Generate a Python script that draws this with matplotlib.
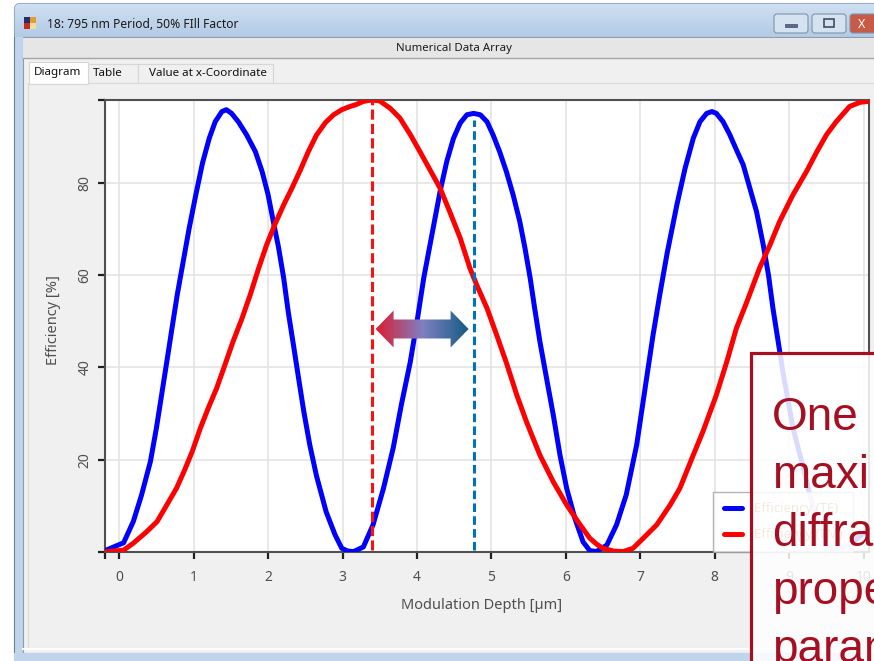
import numpy as np
import matplotlib
matplotlib.use("Agg")
import matplotlib.pyplot as plt
from matplotlib.patches import Rectangle, FancyBboxPatch, Polygon
from matplotlib.colors import LinearSegmentedColormap

plt.rcParams["font.family"] = ["Noto Sans", "DejaVu Sans"]

# efficiency curves
te_x = [-0.19, 0.06, 0.19, 0.30, 0.42, 0.50, 0.57, 0.64, 0.71, 0.78, 0.86, 0.94, 1.03,
        1.12, 1.21, 1.29, 1.38, 1.44, 1.51, 1.60, 1.71, 1.83, 1.92, 2.00, 2.07, 2.14,
        2.21, 2.27, 2.34, 2.41, 2.48, 2.56, 2.65, 2.78, 2.90, 2.99, 3.07, 3.15, 3.28,
        3.41, 3.55, 3.68, 3.79, 3.91, 4.00, 4.09, 4.20, 4.31, 4.40, 4.49, 4.58, 4.67,
        4.76, 4.85, 4.94, 5.02, 5.11, 5.20, 5.29, 5.38, 5.45, 5.52, 5.58, 5.65, 5.74,
        5.83, 5.92, 6.01, 6.12, 6.23, 6.32, 6.41, 6.55, 6.68, 6.81, 6.95, 7.07, 7.17,
        7.26, 7.36, 7.49, 7.60, 7.71, 7.80, 7.89, 7.96, 8.02, 8.11, 8.20, 8.29, 8.38,
        8.47, 8.56, 8.65, 8.72, 8.78, 8.85, 8.92, 9.05, 9.19, 9.32, 9.45, 9.59, 9.80,
        10.07]
te_y = [0.3, 2.0, 6.6, 12.3, 19.6, 26.8, 34.0, 41.2, 48.5, 55.7, 62.9, 70.1, 77.4,
        84.3, 89.6, 93.2, 95.4, 95.8, 95.0, 93.2, 90.4, 86.7, 82.4, 77.4, 71.6, 66.0,
        59.3, 52.1, 44.9, 37.6, 30.4, 23.2, 16.5, 8.7, 3.7, 0.8, 0.2, 0.1, 1.1,
        5.9, 13.8, 22.5, 31.9, 41.2, 49.9, 59.3, 68.7, 78.1, 84.6, 89.6, 92.9, 94.7,
        95.0, 94.7, 93.2, 90.4, 86.7, 82.4, 77.4, 71.6, 65.8, 59.3, 52.8, 45.6, 37.6,
        29.7, 21.0, 13.8, 7.3, 2.2, 0.3, 0.1, 1.5, 5.9, 12.4, 23.2, 36.2, 47.0,
        55.7, 64.8, 75.2, 83.1, 89.6, 93.2, 95.0, 95.4, 95.0, 93.2, 90.4, 87.1, 83.9,
        78.8, 73.7, 66.5, 60.0, 52.8, 45.6, 38.4, 26.8, 18.1, 9.5, 3.7, 0.4, 1.5,
        5.0]

tm_x = [-0.19, 0.06, 0.19, 0.37, 0.51, 0.64, 0.77, 0.87, 0.98, 1.09, 1.20, 1.31, 1.42,
        1.53, 1.65, 1.76, 1.87, 1.98, 2.09, 2.21, 2.32, 2.43, 2.54, 2.65, 2.77, 2.88,
        2.99, 3.10, 3.18, 3.28, 3.39, 3.50, 3.64, 3.77, 3.91, 4.04, 4.17, 4.31, 4.44,
        4.58, 4.71, 4.80, 4.94, 5.07, 5.20, 5.34, 5.47, 5.65, 5.83, 6.01, 6.19, 6.32,
        6.42, 6.50, 6.64, 6.77, 6.90, 7.04, 7.22, 7.40, 7.53, 7.71, 7.84, 8.02, 8.16,
        8.29, 8.43, 8.60, 8.74, 8.87, 9.05, 9.23, 9.37, 9.50, 9.63, 9.81, 9.95, 10.07]
tm_y = [0.0, 0.4, 1.9, 4.4, 6.6, 10.2, 13.8, 17.4, 21.7, 26.8, 31.3, 35.5, 40.5,
        45.6, 50.6, 55.7, 61.3, 66.5, 70.9, 75.2, 78.8, 82.6, 86.7, 90.3, 93.0, 94.7,
        95.8, 96.5, 96.9, 97.6, 97.9, 97.7, 96.1, 94.0, 90.4, 86.7, 82.9, 78.8, 73.7,
        68.0, 61.5, 57.9, 52.8, 47.0, 41.0, 34.0, 28.2, 21.0, 15.2, 10.2, 5.9, 3.0,
        1.6, 0.8, 0.2, 0.1, 0.8, 3.0, 5.9, 10.2, 13.8, 21.0, 26.1, 34.0, 41.2,
        48.5, 54.2, 61.5, 66.5, 71.6, 77.4, 82.4, 86.7, 90.4, 93.2, 96.5, 97.4, 97.6]

tm_peak_x = 3.39
te_peak_x = 4.76
te_peak_y = 93.6

x_ticks = [0, 1, 2, 3, 4, 5, 6, 7, 8, 9, 10]
y_ticks = [20, 40, 60, 80]

title = "18: 795 nm Period, 50% FIll Factor"
note_lines = ["One", "maxi", "diffra", "prope", "param"]

W, H = 874, 661
fig = plt.figure(figsize=(W / 100, H / 100), dpi=100)
fig.patch.set_facecolor("white")

# window chrome drawn in pixel coordinates
bg = fig.add_axes([0, 0, 1, 1], zorder=0)
bg.set_xlim(0, W)
bg.set_ylim(H, 0)
bg.axis("off")

win = FancyBboxPatch((14.5, 3.5), 900, 700, boxstyle="round,pad=0,rounding_size=6",
                     fc="#C0D5EC", ec="#6D7F94", lw=0.8)
bg.add_patch(win)
grad = np.linspace(0, 1, 50).reshape(-1, 1)
title_cmap = LinearSegmentedColormap.from_list("tb", ["#CFE0F2", "#B3CBE5"])
im = bg.imshow(grad, cmap=title_cmap, extent=(14, W, 37, 3), aspect="auto", zorder=1)
im.set_clip_path(win)
bg.set_xlim(0, W)
bg.set_ylim(H, 0)

# icon
for i, c in enumerate(["#2B2B6B", "#E0A030", "#C03020", "#F0E0A0"]):
    bg.add_patch(Rectangle((24 + (i % 2) * 6, 17 + (i // 2) * 6), 6, 6, fc=c, ec="none", zorder=2))
bg.text(47, 24, title, fontsize=8.7, va="center", ha="left", color="#1A1A1A", zorder=2)

# title buttons
for x0, w, fc in [(774, 34, "#D5E3F1"), (812, 34, "#D5E3F1"), (850, 40, "#C85A48")]:
    bg.add_patch(FancyBboxPatch((x0, 14), w, 19, boxstyle="round,pad=0,rounding_size=3",
                                fc=fc, ec="#7F93AA", lw=0.8, zorder=2))
bg.add_patch(Rectangle((785, 24), 12, 3, fc="#5A6C85", ec="#3F4F66", lw=0.5, zorder=3))
bg.add_patch(Rectangle((824, 19), 10, 8, fc="none", ec="#3F4F66", lw=1.2, zorder=3))
bg.text(862, 24, "X", fontsize=9, fontweight="bold", color="white", ha="center", va="center", zorder=3)

# inner panel
bg.add_patch(Rectangle((22.5, 37), 900, 616, fc="#F0F0F0", ec="#8E9BAA", lw=0.8, zorder=2))
bg.add_patch(Rectangle((23, 37.5), 900, 20.5, fc="#E6E6E6", ec="none", zorder=2))
bg.plot([23, W], [58, 58], color="#A5A5A5", lw=1, zorder=3)
bg.text(454, 48, "Numerical Data Array", fontsize=8.2, ha="center", va="center",
        color="#1A1A1A", zorder=3)

# tabs
bg.add_patch(Rectangle((88, 64), 50, 19, fc="#F0F0F0", ec="#D6D6D6", lw=0.8, zorder=3))
bg.add_patch(Rectangle((138, 64), 135, 19, fc="#F0F0F0", ec="#D6D6D6", lw=0.8, zorder=3))
bg.add_patch(Rectangle((29, 62), 59, 22, fc="white", ec="#D6D6D6", lw=0.8, zorder=4))
bg.text(58, 73, "Diagram", fontsize=8.4, ha="center", va="center", color="#111111", zorder=5)
bg.text(108, 74, "Table", fontsize=8.4, ha="center", va="center", color="#111111", zorder=5)
bg.text(208, 74, "Value at x-Coordinate", fontsize=8.4, ha="center", va="center",
        color="#111111", zorder=5)

# content panel
bg.add_patch(Rectangle((28, 83), 900, 565, fc="#F0F0F0", ec="#DADADA", lw=0.8, zorder=3))
bg.plot([23, W], [649, 649], color="white", lw=1.5, zorder=4)
bg.add_patch(Rectangle((14, 653), 900, 20, fc="#C0D5EC", ec="none", zorder=4))

# plot area
ax_l, ax_r, ax_t, ax_b = 105, 869, 100, 552
ax = fig.add_axes([ax_l / W, (H - ax_b) / H, (ax_r - ax_l) / W, (ax_b - ax_t) / H], zorder=2)
ax.set_facecolor("white")
x_min, x_max = -0.19, 10.07
y_min, y_max = 0, 97.9

ax.plot(te_x, te_y, color="#0000FF", lw=3.6, label="Efficiency (TE)",
        solid_joinstyle="round", solid_capstyle="round", zorder=4)
ax.plot(tm_x, tm_y, color="#FF0000", lw=3.6, label="Efficiency (TM)",
        solid_joinstyle="round", solid_capstyle="round", zorder=4)

ax.plot([tm_peak_x, tm_peak_x], [0.5, y_max], color="#FF1010", lw=2.2,
        dashes=(3.3, 1.4), zorder=5)
ax.plot([te_peak_x, te_peak_x], [0.5, te_peak_y], color="#0070C0", lw=2.2,
        dashes=(2.8, 1.4), zorder=5)

# gradient double arrow between the two maxima
px = (x_max - x_min) / (ax_r - ax_l)
py = (y_max - y_min) / (ax_b - ax_t)
x0, x1 = tm_peak_x + 4 * px, te_peak_x - 5 * px
yc = (ax_b - 329) * py
hl, hh, sh = 18 * px, 18.5 * py, 9.5 * py
arrow_pts = [(x0, yc), (x0 + hl, yc + hh), (x0 + hl, yc + sh), (x1 - hl, yc + sh),
             (x1 - hl, yc + hh), (x1, yc), (x1 - hl, yc - hh), (x1 - hl, yc - sh),
             (x0 + hl, yc - sh), (x0 + hl, yc - hh)]
arrow = Polygon(arrow_pts, closed=True, fc="none", ec="none", transform=ax.transData)
ax.add_patch(arrow)
arrow_cmap = LinearSegmentedColormap.from_list("arr", ["#DC1E32", "#7E80C2", "#135A82"])
ga = ax.imshow(np.linspace(0, 1, 200).reshape(1, -1), cmap=arrow_cmap,
               extent=(x0, x1, yc - hh, yc + hh), aspect="auto", zorder=6)
ga.set_clip_path(arrow)

ax.set_xlim(x_min, x_max)
ax.set_ylim(y_min, y_max)
ax.set_xticks([x_min] + x_ticks)
ax.set_xticklabels([""] + [str(t) for t in x_ticks])
ax.set_yticks([0] + y_ticks + [y_max])
ax.set_yticklabels([""] + [str(t) for t in y_ticks] + [""])
ax.grid(True, color="#E2E2E2", lw=1.1, zorder=0)
ax.set_axisbelow(True)
ax.tick_params(axis="both", direction="out", length=5, width=1.6, color="#202020",
               labelsize=10, labelcolor="#505050")
ax.tick_params(axis="x", pad=8)
ax.tick_params(axis="y", pad=4)
for lab in ax.get_yticklabels():
    lab.set_rotation(90)
    lab.set_va("center")
for s in ax.spines.values():
    s.set_color("#505050")
    s.set_linewidth(1.5)

ax.set_xlabel("Modulation Depth [µm]", fontsize=10.5, color="#505050")
ax.set_ylabel("Efficiency [%]", fontsize=10.5, color="#505050")
ax.xaxis.set_label_coords((482 - ax_l) / (ax_r - ax_l), (ax_b - 598) / (ax_b - ax_t))
ax.yaxis.set_label_coords((61 - ax_l) / (ax_r - ax_l), (ax_b - 320) / (ax_b - ax_t))

leg = ax.legend(loc="lower left", bbox_to_anchor=((713 - ax_l) / (ax_r - ax_l), 0.0),
                fontsize=9.5, frameon=True, fancybox=False, edgecolor="#A0A0A0",
                handlelength=1.4, handletextpad=0.9, labelspacing=1.0, borderpad=0.8,
                borderaxespad=0.0)
leg.get_frame().set_linewidth(1.0)
for t in leg.get_texts():
    t.set_color("#9A7A1E")
leg.set_zorder(7)

# overlay note box
ov = fig.add_axes([0, 0, 1, 1], zorder=5)
ov.set_xlim(0, W)
ov.set_ylim(H, 0)
ov.axis("off")
ov.patch.set_alpha(0)
ov.add_patch(Rectangle((751, 352.5), 200, 400, fc=(1, 1, 1, 0.86), ec="#A50F21", lw=2.3))
for i, line in enumerate(note_lines):
    ov.text(772, 430 + i * 58, line, fontsize=33, family="Liberation Sans",
            color="#A50F21", ha="left", va="baseline")

fig.savefig("out.png", dpi=100)
